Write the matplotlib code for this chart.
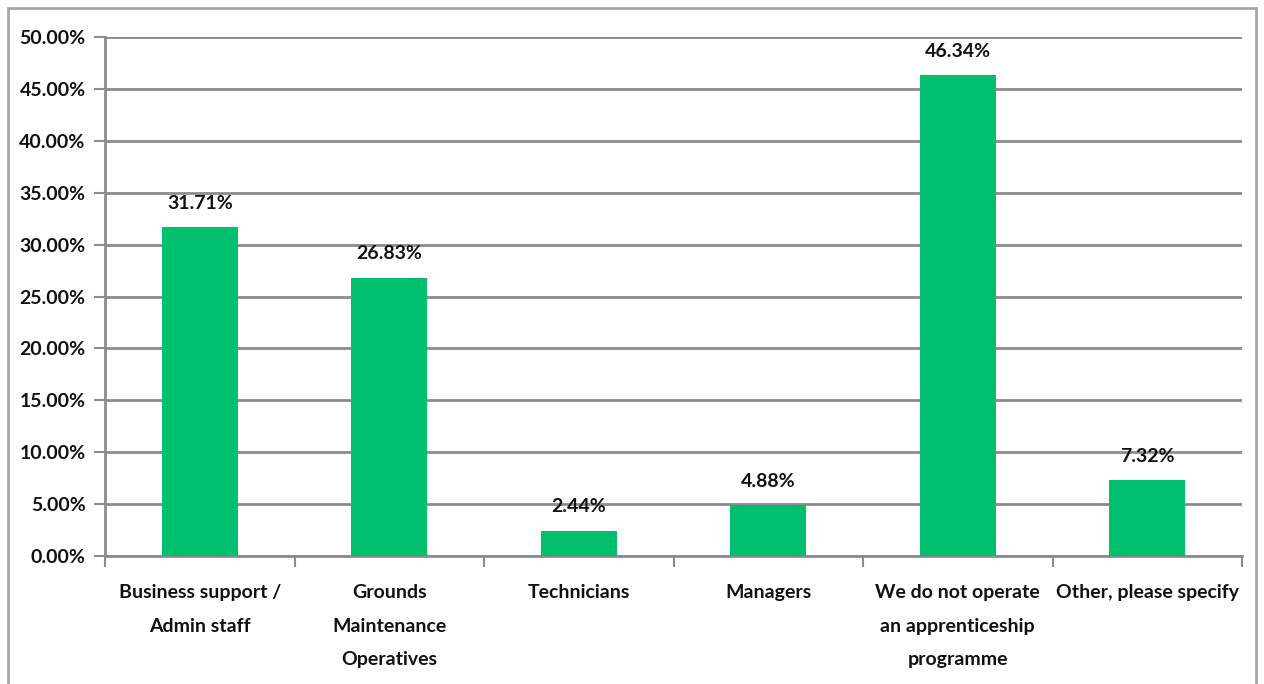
import matplotlib
matplotlib.use('Agg')
import matplotlib.pyplot as plt
from matplotlib.patches import Rectangle
from matplotlib.ticker import FuncFormatter, FixedLocator
import numpy as np

# Dados do gráfico
categorias = ['Business support /\nAdmin staff', 'Grounds\nMaintenance\nOperatives',
              'Technicians', 'Managers', 'We do not operate\nan apprenticeship\nprogramme',
              'Other, please specify']
valores = [31.71, 26.83, 2.44, 4.88, 46.34, 7.32]
rotulos = ['31.71%', '26.83%', '2.44%', '4.88%', '46.34%', '7.32%']

plt.rcParams['font.family'] = ['Lato', 'DejaVu Sans']
plt.rcParams['font.weight'] = 'bold'

fig = plt.figure(figsize=(12.64, 6.84), dpi=100)
ax = fig.add_axes([0.0831, 0.1871, 0.8995, 0.7588])

cinza = '#8c8c8c'
verde = '#00bf6f'

x = np.arange(len(categorias))
ax.bar(x, valores, width=0.4, color=verde, zorder=3)

for xi, v, r in zip(x, valores, rotulos):
    ax.annotate(r, (xi, v), xytext=(0, 11), textcoords='offset points',
                ha='center', va='bottom', fontsize=14, fontweight='bold', color='#111111')

ax.set_xlim(-0.5, len(categorias) - 0.5)
ax.set_ylim(0, 50)
ax.set_yticks(np.arange(0, 50.1, 5))
ax.yaxis.set_major_formatter(FuncFormatter(lambda v, p: f'{v:.2f}%'))
ax.grid(axis='y', color=cinza, linewidth=2, zorder=0)

ax.set_xticks(x)
ax.set_xticklabels(categorias, fontsize=14, fontweight='bold', linespacing=2.2)
ax.xaxis.set_minor_locator(FixedLocator(np.arange(-0.5, len(categorias), 1)))
ax.tick_params(axis='x', which='major', length=0, pad=20, colors='#111111')
ax.tick_params(axis='x', which='minor', length=8, width=1.5, color=cinza, direction='out')
ax.tick_params(axis='y', length=8, width=1.5, color=cinza, labelsize=14, pad=6,
               labelcolor='#111111')

for s in ['top', 'right']:
    ax.spines[s].set_visible(False)
ax.spines['left'].set_color(cinza)
ax.spines['left'].set_linewidth(2)
ax.spines['bottom'].set_color(cinza)
ax.spines['bottom'].set_linewidth(2)

# Moldura externa
fig.patches.append(Rectangle((8 / 1264, -0.02), (1256 - 8) / 1264, (684 - 8) / 684 + 0.02,
                             transform=fig.transFigure, fill=False,
                             edgecolor='#a6a6a6', linewidth=2))

fig.savefig('out.png', dpi=100)
